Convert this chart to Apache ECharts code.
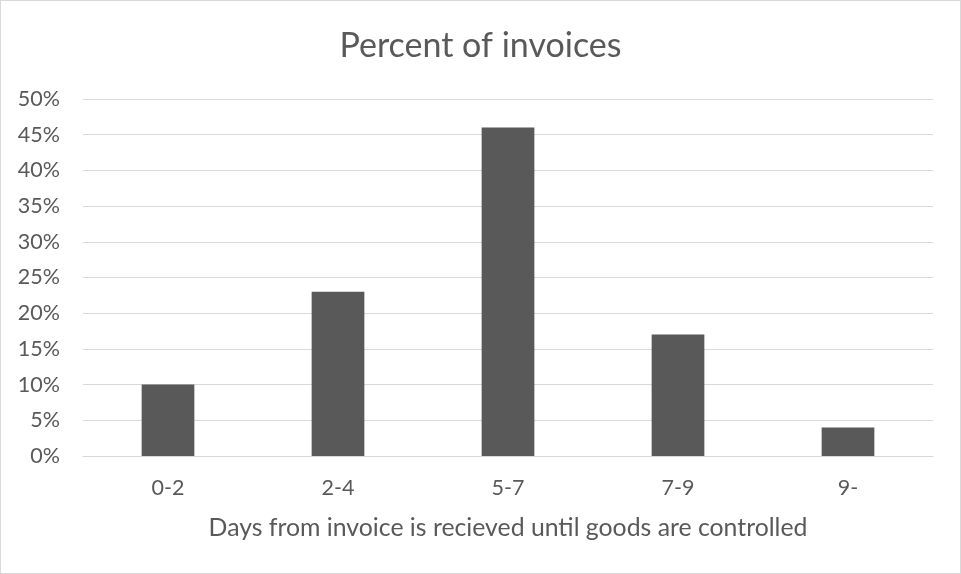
<!DOCTYPE html>
<html>
<head>
<meta charset="utf-8">
<script src="https://cdn.jsdelivr.net/npm/echarts@6/dist/echarts.min.js"></script>
<style>
html,body{margin:0;padding:0;background:#fff;}
#frame{position:absolute;left:0;top:0;width:959px;height:572px;border:1px solid #d9d9d9;}
#chart{position:absolute;left:0;top:0;width:961px;height:574px;}
</style>
</head>
<body>
<div id="frame"></div>
<div id="chart"></div>
<script>
const categories = ["0-2", "2-4", "5-7", "7-9", "9-"];
const percentValues = [10, 23, 46, 17, 4];
const titleText = "Percent of invoices";
const xAxisTitle = "Days from invoice is recieved until goods are controlled";

const FONT = "Lato, 'Open Sans', sans-serif";
const chart = echarts.init(document.getElementById('chart'), null, {renderer: 'canvas'});
chart.setOption({
  backgroundColor: 'transparent',
  animation: false,
  title: {
    text: titleText,
    left: 'center',
    top: 24,
    textStyle: {fontFamily: FONT, fontSize: 34, fontWeight: 'normal', color: '#595959'}
  },
  grid: {left: 83, right: 28, top: 99, bottom: 118, containLabel: false},
  xAxis: {
    type: 'category',
    data: categories,
    name: xAxisTitle,
    nameLocation: 'middle',
    nameGap: 60,
    nameTextStyle: {fontFamily: FONT, fontSize: 24.8, color: '#595959'},
    axisLine: {show: true, lineStyle: {color: '#d9d9d9', width: 1}},
    axisTick: {show: false},
    axisLabel: {fontFamily: FONT, fontSize: 21.5, color: '#595959', margin: 21}
  },
  yAxis: {
    type: 'value',
    min: 0, max: 50, interval: 5,
    axisLine: {show: false},
    axisTick: {show: false},
    splitLine: {lineStyle: {color: '#d9d9d9', width: 1}},
    axisLabel: {fontFamily: FONT, fontSize: 21.5, color: '#595959', margin: 23, formatter: '{value}%'}
  },
  series: [{
    type: 'bar',
    data: percentValues,
    barWidth: '31%',
    itemStyle: {color: '#595959'}
  }]
});
</script>
</body>
</html>
